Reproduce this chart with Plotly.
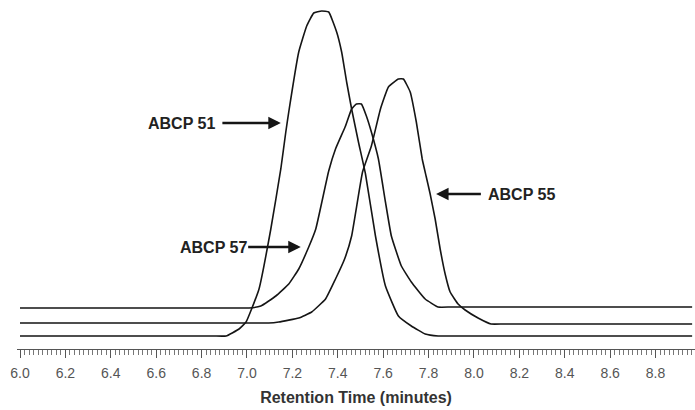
import plotly.graph_objects as go
import numpy as np

# Retention time (minutes) and detector signal (arbitrary units)
t51 = [6.000, 6.850, 6.908, 6.965, 6.996, 7.022, 7.053, 7.105, 7.149, 7.171, 7.184, 7.228, 7.263,
       7.294, 7.329, 7.360, 7.395, 7.417, 7.439, 7.461, 7.491, 7.522, 7.566, 7.610, 7.667,
       7.724, 7.785, 7.842, 7.900, 8.961]
s51 = [13, 13, 13, 20, 27, 41, 60, 120, 180, 217, 237, 297, 323,
       336, 338, 337, 317, 297, 267, 240, 207, 175, 113, 63, 33,
       23, 15, 13, 13, 13]

t57 = [6.000, 6.950, 7.009, 7.061, 7.127, 7.184, 7.228, 7.272, 7.303, 7.360, 7.390, 7.434, 7.461,
       7.482, 7.504, 7.526, 7.548, 7.579, 7.610, 7.636, 7.680, 7.724, 7.785, 7.842, 7.900, 8.961]
s57 = [41, 41, 41, 43, 53, 65, 80, 102, 120, 178, 200, 223, 240,
       245, 245, 233, 217, 190, 147, 113, 83, 67, 50, 42, 42, 42]

t55 = [6.000, 7.040, 7.096, 7.140, 7.228, 7.285, 7.346, 7.390, 7.430, 7.461, 7.509, 7.548, 7.588,
       7.623, 7.667, 7.689, 7.719, 7.746, 7.772, 7.789, 7.807, 7.829, 7.851, 7.873, 7.895,
       7.930, 7.961, 8.018, 8.075, 8.130, 8.961]
s55 = [26, 26, 26, 27, 31, 37, 50, 70, 90, 113, 177, 203, 240,
       262, 270, 270, 257, 227, 190, 173, 155, 130, 100, 75, 57,
       45, 39, 31, 25, 25, 25]

tick_vals = [6.0, 6.2, 6.4, 6.6, 6.8, 7.0, 7.2, 7.4, 7.6, 7.8, 8.0, 8.2, 8.4, 8.6, 8.8]
tick_text = ["6.0", "6.2", "6.4", "6.6", "6.8", "7.0", "7.2", "7.4", "7.6", "7.8",
             "8.0", "8.2", "8.4", "8.6", "8.8"]

fig = go.Figure()
for name, t, s in [("ABCP 51", t51, s51), ("ABCP 57", t57, s57), ("ABCP 55", t55, s55)]:
    fig.add_trace(go.Scatter(x=t, y=s, mode="lines", name=name,
                             line=dict(color="#151515", width=1.6, shape="spline", smoothing=0.35),
                             hoverinfo="skip"))

lab_font = dict(family="Liberation Sans, Arial, sans-serif", size=16, color="#222222")
annos = [
    dict(text="<b>ABCP 51</b>", x=7.149, y=226, ax=6.711, ay=226, standoff=0, startstandoff=6),
    dict(text="<b>ABCP 57</b>", x=7.237, y=102, ax=6.851, ay=102, standoff=0, startstandoff=0),
    dict(text="<b>ABCP 55</b>", x=7.833, y=155, ax=8.211, ay=155, standoff=0, startstandoff=6),
]
for a in annos:
    fig.add_annotation(xref="x", yref="y", axref="x", ayref="y", showarrow=True,
                       arrowhead=2, arrowsize=1, arrowwidth=2.5, arrowcolor="#151515",
                       font=lab_font, **a)

fig.update_layout(
    width=695, height=410,
    margin=dict(l=17, r=0, t=0, b=61),
    paper_bgcolor="white", plot_bgcolor="white",
    showlegend=False,
    xaxis=dict(range=[5.9868, 8.9737], showgrid=False, zeroline=False,
               showline=True, linecolor="#555555", linewidth=1,
               tickmode="array", tickvals=tick_vals, ticktext=tick_text,
               ticks="outside", ticklen=8, tickwidth=1, tickcolor="#555555",
               ticklabelstandoff=3,
               tickfont=dict(family="Liberation Sans, Arial, sans-serif", size=14, color="#555555"),
               minor=dict(dtick=0.02, tick0=6.0, ticks="outside", ticklen=5,
                          tickwidth=1, tickcolor="#777777"),
               title=dict(text="<b>Retention Time (minutes)</b>", standoff=12,
                          font=dict(family="Liberation Sans, Arial, sans-serif", size=16,
                                    color="#333333"))),
    yaxis=dict(range=[0, 349], visible=False, fixedrange=True),
)

fig.write_html("out.html")
